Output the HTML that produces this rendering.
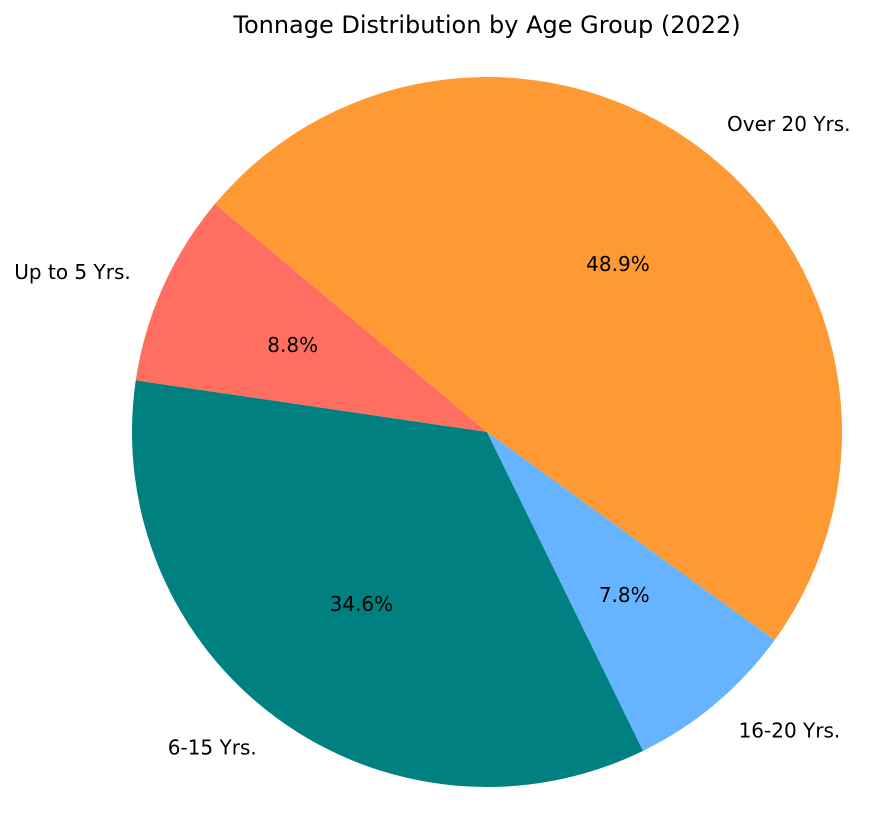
<!DOCTYPE html>
<html><head><meta charset="utf-8">
<style>
html,body{margin:0;padding:0;background:#fff;}
svg text{font-family:"DejaVu Sans","Liberation Sans",sans-serif;}
</style></head>
<body>
<svg id="chart" width="892" height="835" viewBox="0 0 892 835" xmlns="http://www.w3.org/2000/svg">
<rect width="892" height="835" fill="#fff"/>
<text x="487" y="33" text-anchor="middle" font-size="24" fill="#000">Tonnage Distribution by Age Group (2022)</text>
<g id="slices"></g>
</svg>
<script>
const categories = ["Up to 5 Yrs.", "6-15 Yrs.", "16-20 Yrs.", "Over 20 Yrs."];
const values = [8.8, 34.6, 7.8, 48.9];
const colors = ["#ff6f61", "#008080", "#66b3ff", "#ff9933"];
const cx = 487, cy = 432, R = 355, startAngle = 140;
const g = document.getElementById('slices');
const NS = "http://www.w3.org/2000/svg";
const total = values.reduce((a,b)=>a+b,0);
function pt(deg, r){ const a = deg*Math.PI/180; return [cx + r*Math.cos(a), cy - r*Math.sin(a)]; }
let ang = startAngle;
values.forEach((v,i)=>{
  const sweep = v/total*360;
  const a0 = ang, a1 = ang + sweep;
  const p0 = pt(a0,R), p1 = pt(a1,R);
  const large = sweep > 180 ? 1 : 0;
  const path = document.createElementNS(NS,'path');
  path.setAttribute('d', `M${cx},${cy} L${p0[0]},${p0[1]} A${R},${R} 0 ${large} 0 ${p1[0]},${p1[1]} Z`);
  path.setAttribute('fill', colors[i]);
  
  
  g.appendChild(path);
  const mid = (a0+a1)/2;
  const lp = pt(mid, R*1.1);
  const c = Math.cos(mid*Math.PI/180);
  const lab = document.createElementNS(NS,'text');
  lab.setAttribute('x', lp[0]); lab.setAttribute('y', lp[1]+7);
  lab.setAttribute('text-anchor', c < 0 ? 'end' : 'start');
  lab.setAttribute('font-size', '20');
  lab.textContent = categories[i];
  
  
  g.appendChild(lab);
  const pp = pt(mid, R*0.6);
  const pct = document.createElementNS(NS,'text');
  pct.setAttribute('x', pp[0]); pct.setAttribute('y', pp[1]+7);
  pct.setAttribute('text-anchor', 'middle');
  pct.setAttribute('font-size', '20');
  pct.textContent = v.toFixed(1) + '%';
  
  
  g.appendChild(pct);
  ang = a1;
});
</script>
</body></html>
